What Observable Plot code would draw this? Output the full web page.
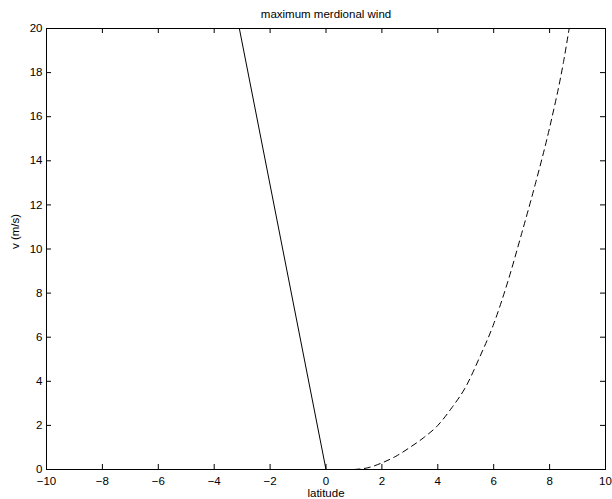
<!DOCTYPE html>
<html>
<head>
<meta charset="utf-8">
<script src="https://cdn.jsdelivr.net/npm/d3@7"></script>
<script src="https://cdn.jsdelivr.net/npm/@observablehq/plot@0.6"></script>
<style>
  html, body { margin: 0; padding: 0; background: #fff; }
  #chart svg { display: block; }
</style>
</head>
<body>
<div id="chart"></div>
<script>
const titleText = "maximum merdional wind";
const xLabel = "latitude";
const yLabel = "v (m/s)";
const xTicks = [-10, -8, -6, -4, -2, 0, 2, 4, 6, 8, 10];
const yTicks = [0, 2, 4, 6, 8, 10, 12, 14, 16, 18, 20];

// solid line (southern branch)
const solidLat = [0, -3.1];
const solidV = [0, 20];

// dashed curve (northern branch)
const dashLat = [1.0, 1.5, 2.0, 2.5, 3.0, 3.5, 4.0, 4.5, 5.0, 5.5, 6.0, 6.5, 7.0, 7.5, 8.0, 8.5, 8.7];
const dashV   = [0.0, 0.08, 0.3, 0.6, 1.0, 1.45, 2.0, 2.8, 3.75, 5.1, 6.6, 8.5, 10.7, 13.0, 15.5, 18.5, 20.0];

const solid = solidLat.map((x, i) => ({x, v: solidV[i]}));
const dashed = dashLat.map((x, i) => ({x, v: dashV[i]}));

const W = 612, H = 499;
const mT = 28, mB = 30, mL = 46, mR = 7;
const innerH = H - mT - mB;
const innerW = W - mL - mR;
const tickLen = 5;
const font = "Liberation Sans, Arial, Helvetica, sans-serif";

const chart = Plot.plot({
  width: W,
  height: H,
  marginTop: mT,
  marginBottom: mB,
  marginLeft: mL,
  marginRight: mR,
  style: {fontFamily: font, fontSize: "11.5px", color: "#000", background: "#fff"},
  x: {domain: [-10, 10], ticks: xTicks, label: null},
  y: {domain: [0, 20], ticks: yTicks, label: null},
  marks: [
    Plot.axisX({ticks: xTicks, tickSize: 0, tickPadding: 7, label: null, fontSize: 11.5}),
    Plot.axisY({ticks: yTicks, tickSize: 0, tickPadding: 4, label: null, fontSize: 11.5}),
    // inward ticks
    Plot.ruleX(xTicks, {x: d => d, insetTop: innerH - tickLen, stroke: "#000"}),
    Plot.ruleX(xTicks, {x: d => d, insetBottom: innerH - tickLen, stroke: "#000"}),
    Plot.ruleY(yTicks, {y: d => d, insetRight: innerW - tickLen, stroke: "#000"}),
    Plot.ruleY(yTicks, {y: d => d, insetLeft: innerW - tickLen, stroke: "#000"}),
    Plot.line(solid, {x: "x", y: "v", stroke: "#000", strokeWidth: 1}),
    Plot.line(dashed, {x: "x", y: "v", stroke: "#000", strokeWidth: 1, strokeDasharray: "6,4.5", curve: "monotone-x"}),
    Plot.frame({stroke: "#000"}),
    Plot.text([titleText], {frameAnchor: "top", dy: -14, fontSize: 11.5, fill: "#000", lineAnchor: "middle"}),
    Plot.text([xLabel], {frameAnchor: "bottom", dy: 24, fontSize: 11.5, fill: "#000", lineAnchor: "middle"}),
    Plot.text([yLabel], {frameAnchor: "left", dx: -31, rotate: -90, fontSize: 11.5, fill: "#000", lineAnchor: "middle"})
  ]
});
document.getElementById("chart").appendChild(chart);
</script>
</body>
</html>
